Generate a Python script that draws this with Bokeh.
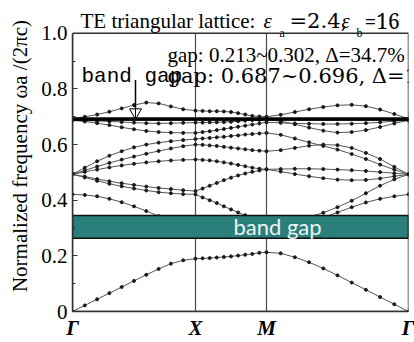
import numpy as np
from bokeh.plotting import figure
from bokeh.models import Range1d, Label, FixedTicker, ColumnDataSource
from bokeh.embed import file_html
from bokeh.resources import INLINE

# ---------------- data ----------------
k_labels = ["Γ", "X", "M", "Γ"]
k_nodes = [0.0, 0.5774, 0.9107, 1.5774]     # path distance (2π/a)

y_ticks = [0.0, 0.2, 0.4, 0.6, 0.8, 1.0]
y_tick_labels = ["0", "0.2", "0.4", "0.6", "0.8", "1.0"]
y_minor = [0.1, 0.3, 0.5, 0.7, 0.9]

# band frequencies (ωa/2πc): Γ→X (11 pts), X→M (10 pts), M→Γ (10 pts)
band1 = [0.000, 0.022, 0.044, 0.066, 0.088, 0.110, 0.132, 0.153, 0.172, 0.184, 0.190,
         0.191, 0.192, 0.194, 0.196, 0.198, 0.201, 0.204, 0.207, 0.211, 0.213,
         0.209, 0.195, 0.177, 0.155, 0.130, 0.104, 0.078, 0.052, 0.026, 0.000]
band2 = [0.421, 0.419, 0.414, 0.405, 0.393, 0.378, 0.361, 0.343, 0.325, 0.310, 0.302,
         0.302, 0.301, 0.301, 0.300, 0.300, 0.300, 0.300, 0.300, 0.300, 0.300,
         0.303, 0.310, 0.322, 0.338, 0.356, 0.375, 0.392, 0.405, 0.414, 0.421]
band3 = [0.493, 0.482, 0.470, 0.459, 0.450, 0.442, 0.435, 0.429, 0.425, 0.422, 0.421,
         0.410, 0.400, 0.390, 0.378, 0.367, 0.356, 0.346, 0.336, 0.327, 0.320,
         0.323, 0.330, 0.340, 0.355, 0.375, 0.398, 0.425, 0.452, 0.475, 0.493]
band4 = [0.493, 0.485, 0.476, 0.468, 0.461, 0.455, 0.449, 0.444, 0.440, 0.436, 0.433,
         0.442, 0.452, 0.462, 0.472, 0.481, 0.489, 0.496, 0.502, 0.507, 0.511,
         0.512, 0.513, 0.513, 0.512, 0.510, 0.508, 0.505, 0.501, 0.497, 0.493]
band5 = [0.493, 0.502, 0.510, 0.518, 0.525, 0.531, 0.536, 0.540, 0.543, 0.545, 0.546,
         0.545, 0.543, 0.540, 0.536, 0.532, 0.527, 0.522, 0.517, 0.513, 0.511,
         0.503, 0.494, 0.486, 0.479, 0.474, 0.472, 0.473, 0.478, 0.486, 0.493]
band6 = [0.493, 0.507, 0.521, 0.534, 0.546, 0.557, 0.567, 0.577, 0.586, 0.594, 0.600,
         0.599, 0.597, 0.595, 0.592, 0.589, 0.586, 0.583, 0.580, 0.578, 0.576,
         0.580, 0.588, 0.596, 0.600, 0.598, 0.588, 0.570, 0.548, 0.520, 0.493]
band7 = [0.493, 0.517, 0.540, 0.560, 0.576, 0.590, 0.600, 0.607, 0.612, 0.616, 0.620,
         0.622, 0.624, 0.626, 0.628, 0.631, 0.633, 0.636, 0.638, 0.640, 0.642,
         0.635, 0.622, 0.608, 0.595, 0.582, 0.566, 0.548, 0.528, 0.510, 0.493]
band8 = [0.687, 0.683, 0.677, 0.670, 0.662, 0.655, 0.649, 0.645, 0.643, 0.642, 0.642,
         0.645, 0.648, 0.652, 0.656, 0.660, 0.664, 0.668, 0.672, 0.676, 0.680,
         0.678, 0.676, 0.675, 0.674, 0.674, 0.675, 0.677, 0.680, 0.684, 0.687]
band9 = [0.687, 0.686, 0.685, 0.683, 0.681, 0.679, 0.677, 0.676, 0.677, 0.678, 0.679,
         0.679, 0.680, 0.680, 0.681, 0.682, 0.684, 0.686, 0.688, 0.689, 0.690,
         0.684, 0.673, 0.661, 0.650, 0.643, 0.645, 0.652, 0.663, 0.676, 0.687]
band10 = [0.693, 0.700, 0.708, 0.718, 0.730, 0.742, 0.751, 0.748, 0.737, 0.727, 0.722,
          0.721, 0.720, 0.720, 0.719, 0.717, 0.713, 0.708, 0.703, 0.701, 0.700,
          0.707, 0.717, 0.727, 0.735, 0.741, 0.743, 0.738, 0.726, 0.710, 0.693]
bands = [band1, band2, band3, band4, band5, band6, band7, band8, band9, band10]

gap1_box = [0.263, 0.345]          # drawn band-gap box
gap2 = [0.687, 0.696]              # narrow gap (thick line)
gap1_text = "gap: 0.213~0.302, Δ=34.7%"
gap2_text = "gap: 0.687~0.696, Δ=1.2%"

k = np.concatenate([
    np.linspace(k_nodes[0], k_nodes[1], 11),
    np.linspace(k_nodes[1], k_nodes[2], 11)[1:],
    np.linspace(k_nodes[2], k_nodes[3], 11)[1:],
])

FONT = "Liberation Serif"
FRAME = "#333333"

y_top = 313 / 280.0
p = figure(width=414, height=342, output_backend="svg", toolbar_location=None,
           x_range=Range1d(k_nodes[0], k_nodes[-1]), y_range=Range1d(0, y_top),
           min_border_left=72, min_border_right=6, min_border_top=0, min_border_bottom=29)
p.xgrid.visible = False
p.ygrid.visible = False
p.outline_line_color = None

def xd(px):
    return (px - 72) * (k_nodes[-1] - k_nodes[0]) / 336.0

def yd(py):
    return (313 - py) / 280.0

p.segment(x0=k_nodes[1:3], y0=[0, 0], x1=k_nodes[1:3], y1=[1, 1],
          line_color="#4a4a4a", line_width=1.2)

for b in bands:
    src = ColumnDataSource(dict(k=k, f=b))
    p.line("k", "f", source=src, line_color="#555555", line_width=1)
    p.scatter("k", "f", source=src, size=3, color="#1a1a1a", marker="circle")

p.quad(left=[k_nodes[0]], right=[k_nodes[-1]], bottom=[gap1_box[0]], top=[gap1_box[1]],
       fill_color="#2a7f7b", line_color="#111111", line_width=1.5)
p.quad(left=[k_nodes[0]], right=[k_nodes[-1]], bottom=[gap2[0]], top=[gap2[1]],
       fill_color="black", line_color="black", line_width=1)
p.quad(left=[k_nodes[0]], right=[k_nodes[-1]], bottom=[0], top=[1],
       fill_color=None, line_color=FRAME, line_width=1.5)

p.segment(x0=[xd(135)], y0=[yd(80)], x1=[xd(135)], y1=[gap2[1] + 0.01],
          line_color="black", line_width=1.5)
p.scatter(x=[xd(135)], y=[gap2[1] + 0.02], marker="inverted_triangle", size=12,
          fill_color="white", line_color="black", line_width=1)
p.segment(x0=[xd(135)], y0=[gap2[1] + 0.035], x1=[xd(135)], y1=[gap2[1]],
          line_color="black", line_width=1)

yax = p.yaxis[0]
yax.bounds = (0, 1)
yax.ticker = FixedTicker(ticks=y_ticks, minor_ticks=y_minor)
yax.major_label_overrides = dict(zip(y_ticks, y_tick_labels))
yax.major_label_text_font = "serif"
yax.major_label_text_font_size = "21px"
yax.major_label_text_color = "black"
yax.major_tick_in = 5
yax.major_tick_out = 0
yax.minor_tick_in = 3
yax.minor_tick_out = 0
yax.major_tick_line_color = FRAME
yax.minor_tick_line_color = FRAME
yax.axis_line_color = FRAME
yax.axis_line_width = 1.5
yax.axis_label = "Normalized frequency ωa /(2πc)"
yax.axis_label_text_font = "Times New Roman"
yax.axis_label_text_font_size = "21px"
yax.axis_label_text_font_style = "normal"
yax.axis_label_text_color = "black"
yax.axis_label_standoff = 6

xax = p.xaxis[0]
xax.ticker = FixedTicker(ticks=k_nodes)
xax.major_label_overrides = dict(zip(k_nodes, k_labels))
xax.major_label_text_font = FONT
xax.major_label_text_font_size = "21px"
xax.major_label_text_font_style = "bold italic"
xax.major_label_text_color = "black"
xax.major_tick_in = 0
xax.major_tick_out = 0
xax.minor_tick_line_color = None
xax.axis_line_color = FRAME
xax.axis_line_width = 1.5
xax.major_label_standoff = 4

def lab(text, px, py, size="21px", italic=False, color="black", font=FONT):
    kw = dict(text_font_style="italic") if italic else {}
    p.add_layout(Label(x=xd(px), y=yd(py), text=text, text_font=font, text_font_size=size,
                       text_baseline="alphabetic", text_color=color, **kw))

lab("TE triangular lattice:", 80, 21, font="Times")
lab("ε", 263, 21, italic=True)
lab("a", 279, 33, size="12px")
lab("=2.4,", 289, 21, font="DejaVu Serif")
lab("ε", 341, 21, italic=True)
lab("b", 356, 33, size="12px")
lab("=16", 364, 21, font="Noto Serif")

lab(gap1_text, 167, 55, font="Liberation Serif")
lab(gap2_text, 167, 76, font="DejaVu Serif")
lab("band gap", 81, 76, font="Liberation Mono")

p.add_layout(Label(x=xd(277), y=sum(gap1_box) / 2,
                   text="band gap", text_font="Lato", text_font_size="22px",
                   text_align="center", text_baseline="middle", text_color="#eef4f3"))

open("out.html", "w").write(file_html(p, INLINE))
